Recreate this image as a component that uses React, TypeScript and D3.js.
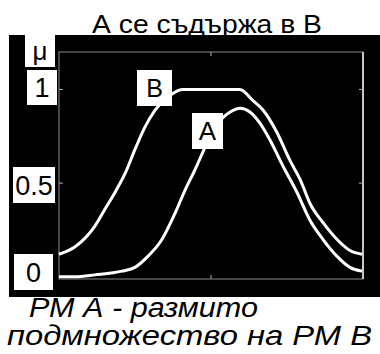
import React, { useEffect, useRef } from 'react';
import * as d3 from 'd3';

// membership curves (x in 0..10, mu in 0..1)
const xB = [0, 0.53, 1.18, 1.51, 1.84, 2.17, 2.5, 2.83, 3.16, 3.59, 4.05, 4.57, 5.2, 5.95, 6.38, 6.71, 7.17, 7.6, 7.93, 8.26, 8.68, 9.14, 9.57, 9.97];
const muB = [0.12, 0.16, 0.27, 0.36, 0.45, 0.55, 0.68, 0.8, 0.89, 0.96, 1.0, 1.0, 1.0, 1.0, 0.94, 0.89, 0.77, 0.62, 0.52, 0.39, 0.29, 0.2, 0.14, 0.12];
const xA = [0, 0.53, 1.18, 2.07, 2.5, 2.93, 3.39, 3.82, 4.14, 4.47, 4.8, 5.13, 5.39, 5.63, 5.95, 6.28, 6.61, 6.94, 7.37, 7.83, 8.26, 8.68, 9.14, 9.57, 9.97];
const muA = [0.0, 0.0, 0.01, 0.03, 0.05, 0.11, 0.2, 0.34, 0.46, 0.57, 0.69, 0.8, 0.85, 0.88, 0.9, 0.88, 0.82, 0.73, 0.59, 0.45, 0.3, 0.2, 0.11, 0.05, 0.03];

const yTickLabels = ['0', '0.5', '1'];
const yTickValues = [0, 0.5, 1];
const title = 'А се съдържа в В';
const caption = ['РМ А - размито', 'подмножество на РМ В'];

function App() {
  const ref = useRef(null);

  useEffect(() => {
    d3.select(ref.current).selectAll('*').remove();

    const width = 380;
    const height = 354;
    const plot = { left: 59, right: 363, top: 52, bottom: 279 };

    const svg = d3
      .select(ref.current)
      .append('svg')
      .attr('width', width)
      .attr('height', height)
      .style('position', 'absolute')
      .style('left', 0)
      .style('top', 0)
      .style('font-family', '"Liberation Sans", Arial, sans-serif');

    const x = d3.scaleLinear().domain([0, 10]).range([plot.left, plot.right]);
    const y = d3.scaleLinear().domain([-0.012, 1.2]).range([plot.bottom, plot.top]);

    // black figure background
    svg.append('rect').attr('x', 9).attr('y', 35).attr('width', 371).attr('height', 262).attr('fill', '#000');

    // title
    svg
      .append('text')
      .attr('x', 92)
      .attr('y', 33)
      .attr('font-size', 25)
      .attr('textLength', 230)
      .attr('lengthAdjust', 'spacingAndGlyphs')
      .text(title);

    // frame
    svg
      .append('rect')
      .attr('x', plot.left)
      .attr('y', plot.top)
      .attr('width', plot.right - plot.left)
      .attr('height', plot.bottom - plot.top)
      .attr('fill', 'none')
      .attr('stroke', '#8a8a8a')
      .attr('stroke-width', 1);
    svg
      .append('line')
      .attr('x1', plot.right)
      .attr('x2', plot.right)
      .attr('y1', plot.top)
      .attr('y2', plot.bottom)
      .attr('stroke', '#c8c8c8')
      .attr('stroke-width', 2);

    // inward ticks
    const tickG = svg.append('g').attr('stroke', '#b0b0b0').attr('stroke-width', 1);
    [0.5, 1].forEach((v) => {
      tickG.append('line').attr('x1', plot.left).attr('x2', plot.left + 4).attr('y1', y(v)).attr('y2', y(v));
      tickG.append('line').attr('x1', plot.right - 4).attr('x2', plot.right).attr('y1', y(v)).attr('y2', y(v));
    });
    tickG.append('line').attr('x1', x(5)).attr('x2', x(5)).attr('y1', plot.top).attr('y2', plot.top + 4);
    tickG.append('line').attr('x1', x(5)).attr('x2', x(5)).attr('y1', plot.bottom - 4).attr('y2', plot.bottom);

    // curves
    const line = d3
      .line()
      .x((d) => x(d[0]))
      .y((d) => y(d[1]))
      .curve(d3.curveMonotoneX);

    const dataB = xB.map((v, i) => [v, muB[i]]);
    const dataA = xA.map((v, i) => [v, muA[i]]);

    [dataB, dataA].forEach((d) => {
      svg
        .append('path')
        .datum(d)
        .attr('fill', 'none')
        .attr('stroke', '#fff')
        .attr('stroke-width', 3)
        .attr('d', line);
    });

    // labels in white boxes
    const boxLabel = (text, bx, by, bw, bh, fs) => {
      svg.append('rect').attr('x', bx).attr('y', by).attr('width', bw).attr('height', bh).attr('fill', '#fff');
      svg
        .append('text')
        .attr('x', bx + bw / 2)
        .attr('y', by + bh / 2)
        .attr('dy', '0.36em')
        .attr('text-anchor', 'middle')
        .attr('font-size', fs)
        .text(text);
    };

    boxLabel('B', 137, 70, 35, 36, 25);
    boxLabel('A', 192, 113, 31, 36, 26);

    boxLabel('μ', 25, 35, 30, 32, 26);
    const tickBoxes = [
      [14, 254, 39, 36],
      [13, 167, 42, 36],
      [27, 70, 30, 35],
    ];
    yTickValues.forEach((v, i) => {
      const b = tickBoxes[i];
      boxLabel(yTickLabels[i], b[0], b[1], b[2], b[3], 27);
    });

    // caption
    const capX = [29, 7];
    const capLen = [229, 365];
    caption.forEach((c, i) => {
      svg
        .append('text')
        .attr('x', capX[i])
        .attr('y', 317 + i * 28)
        .attr('font-size', 27)
        .attr('font-style', 'italic')
        .attr('textLength', capLen[i])
        .attr('lengthAdjust', 'spacingAndGlyphs')
        .text(c);
    });
  }, []);

  return <div ref={ref} />;
}

export default App;
